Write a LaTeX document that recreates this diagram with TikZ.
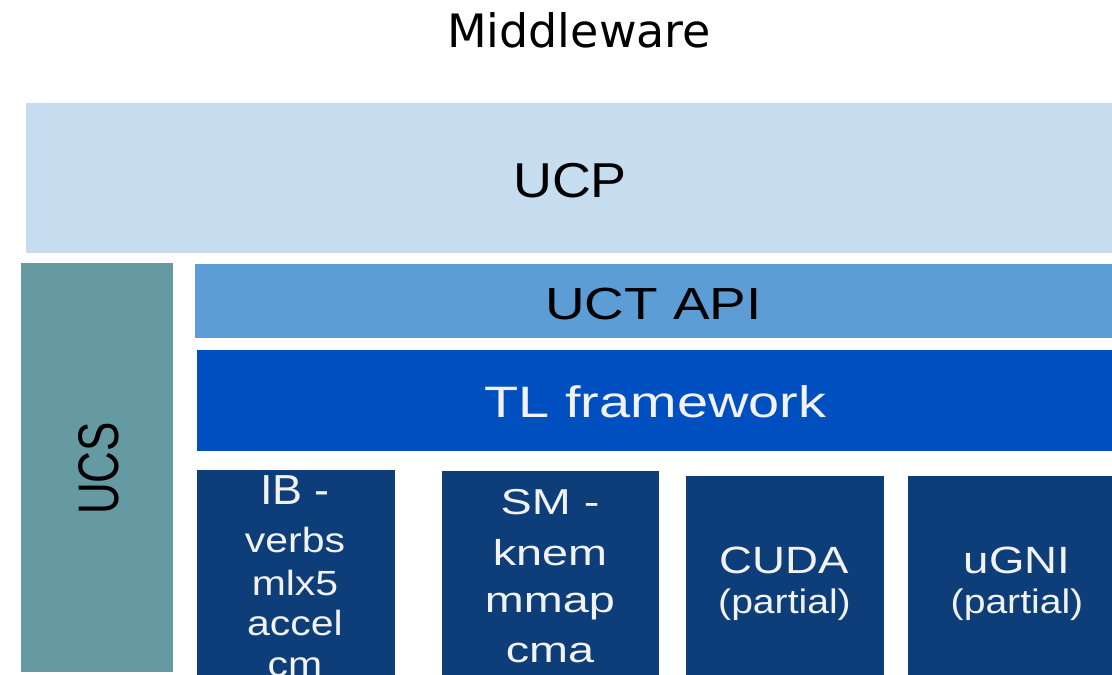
\documentclass[tikz,border=0pt]{standalone}
\usepackage{fontspec}
\setmainfont{Liberation Sans}
\newfontfamily\djv{DejaVu Sans}
\definecolor{ucpc}{RGB}{198,221,240}
\definecolor{ucsc}{RGB}{102,154,162}
\definecolor{apic}{RGB}{91,157,212}
\definecolor{tlc}{RGB}{0,79,192}
\definecolor{tpc}{RGB}{14,62,121}
\definecolor{wtxt}{RGB}{242,242,242}
\newcommand{\fsz}[1]{\fontsize{#1}{#1}\selectfont}
\newcommand{\sx}[2]{\scalebox{#1}[1]{#2}}
\begin{document}
\begin{tikzpicture}[x=1pt,y=-1pt,
  blk/.style={inner sep=0pt,outer sep=0pt,draw=none,anchor=north west},
  lbl/.style={inner sep=0pt,anchor=base},
  wl/.style={lbl,text=wtxt}]
\useasboundingbox (0,0) rectangle (1112,675);
% boxes
\node[blk,fill=ucpc,minimum width=1086pt,minimum height=150pt] (ucp) at (26,103) {};
\node[blk,fill=ucsc,minimum width=152.5pt,minimum height=409pt] (ucs) at (20.5,263) {};
\node[blk,fill=apic,minimum width=917pt,minimum height=74pt] (api) at (195,264) {};
\node[blk,fill=tlc,minimum width=915pt,minimum height=101pt] (tl) at (197,350) {};
\node[blk,fill=tpc,minimum width=198pt,minimum height=205pt] (ib) at (197,470) {};
\node[blk,fill=tpc,minimum width=217pt,minimum height=204pt] (sm) at (442,471) {};
\node[blk,fill=tpc,minimum width=198pt,minimum height=199pt] (cuda) at (686,476) {};
\node[blk,fill=tpc,minimum width=204pt,minimum height=199pt] (ugni) at (908,476) {};
% labels
\node[lbl,font=\djv\fsz{46}] (mw) at (579,47) {Middleware};
\node[lbl,font=\fsz{49}] (tucp) at (570,197) {\sx{1.1}{UCP}};
\node[lbl,font=\fsz{44},rotate=90] (tucs) at (118,468.5) {\scalebox{1}[1.3]{UCS}};
\node[lbl,font=\fsz{45}] (tapi) at (653.5,319) {\sx{1.22}{UCT API}};
\node[wl,font=\fsz{44}] (ttl) at (655.5,417) {\sx{1.27}{TL framework}};
% IB
\node[wl,font=\fsz{42}] (ib1) at (295,504) {\sx{1.07}{IB -}};
\node[wl,font=\fsz{35}] (ib2) at (295,552) {\sx{1.17}{verbs}};
\node[wl,font=\fsz{35}] (ib3) at (295,595) {\sx{1.17}{mlx5}};
\node[wl,font=\fsz{35}] (ib4) at (295,635) {\sx{1.17}{accel}};
\node[wl,font=\fsz{35}] (ib5) at (295,676) {\sx{1.17}{cm}};
% SM
\node[wl,font=\fsz{36}] (sm1) at (550,514) {\sx{1.3}{SM -}};
\node[wl,font=\fsz{36}] (sm2) at (550,565) {\sx{1.3}{knem}};
\node[wl,font=\fsz{36}] (sm3) at (550,612) {\sx{1.3}{mmap}};
\node[wl,font=\fsz{36}] (sm4) at (550,662) {\sx{1.3}{cma}};
% CUDA
\node[wl,font=\fsz{38}] (cu1) at (784.5,573) {\sx{1.2}{CUDA}};
\node[wl,font=\fsz{34}] (cu2) at (784.5,613) {\sx{1.15}{(partial)}};
% uGNI
\node[wl,font=\fsz{38}] (ug1) at (1017,573) {\sx{1.2}{uGNI}};
\node[wl,font=\fsz{34}] (ug2) at (1017,613) {\sx{1.15}{(partial)}};
\end{tikzpicture}
\end{document}
